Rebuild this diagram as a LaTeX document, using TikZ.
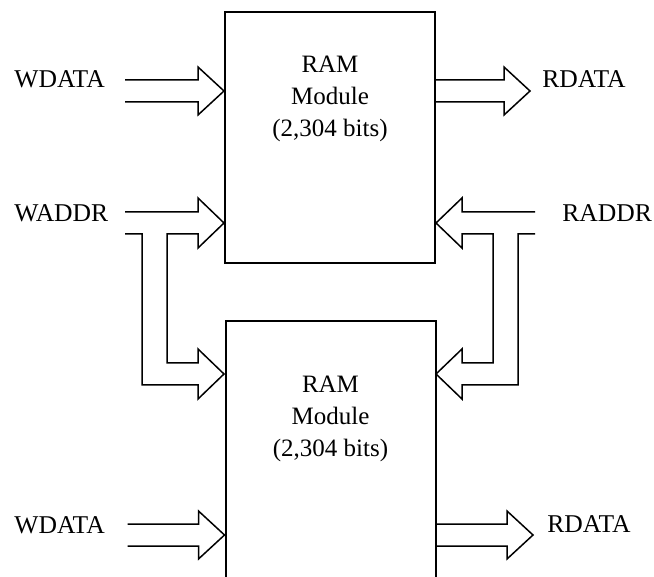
\documentclass[tikz,border=0pt]{standalone}
\usepackage{fontspec}
\setmainfont{Liberation Serif}
\usetikzlibrary{positioning}

\begin{document}
\begin{tikzpicture}[
  x=.5pt,y=-.5pt,
  ram/.style={
    rectangle,draw=black,line width=1pt,minimum width=105pt,
    inner sep=0pt
  },
  ramtext/.style={align=center,font=\fontsize{12.5}{16}\selectfont},
  signal/.style={font=\fontsize{12.8}{15}\selectfont,anchor=base west,inner sep=0pt},
  busline/.style={draw=black,line width=.75pt,line join=miter},
  % Argument: shaft length; the tip sits at the pic origin.
  pics/bus/.style={code={
    \draw[busline] (-#1,-11) -- (-26,-11) -- (-26,-24) -- (0,0)
      -- (-26,24) -- (-26,11) -- (-#1,11);
  }},
  % Address bus feeding both modules; the lower tip is 151 below.
  pics/splitbus/.style={code={
    \draw[busline] (-99,-11) -- (-26,-11) -- (-26,-25) -- (0,0)
      -- (-26,25) -- (-26,11) -- (-57,11) -- (-57,140) -- (-26,140)
      -- (-26,126) -- (0,151) -- (-26,176) -- (-26,162) -- (-82,162)
      -- (-82,11) -- (-99,11);
  }}
]
  \useasboundingbox (0,0) rectangle (654,577);
  \clip (0,0) rectangle (654,577);

  \node[ram,minimum height=125.5pt] (ramA) at (330,137.5) {};
  \node[ram,minimum height=150pt] (ramB) at (330.5,471) {};

  \node[ramtext] (ramAtext) at (ramA.center |- 0,99)
    {RAM\\Module\\(2,304 bits)};
  \node[ramtext] (ramBtext) at (ramB.center |- 0,419)
    {RAM\\Module\\(2,304 bits)};

  \node[signal] (wdataA) at (14,88) {WDATA};
  \node[signal] (rdataA) at (542,88) {RDATA};
  \node[signal] (waddr) at (14,222) {WADDR};
  \node[signal] (raddr) at (562,222) {RADDR};
  \node[signal] (wdataB) at (14,533) {WDATA};
  \node[signal] (rdataB) at (547,532) {RDATA};

  \coordinate (wdAtip) at (ramA.west |- 0,91);
  \coordinate (rdAtip) at (530,91);
  \coordinate (waAtip) at (ramA.west |- 0,223);
  \coordinate (raAtip) at (ramA.east |- 0,223);
  \coordinate (wdBtip) at (ramB.west |- 0,535);
  \coordinate (rdBtip) at (533,535);

  \pic at (wdAtip) {bus=99};
  \pic at (rdAtip) {bus=95};
  \pic at (waAtip) {splitbus};
  \pic[xscale=-1] at (raAtip) {splitbus};
  \pic at (wdBtip) {bus=97};
  \pic at (rdBtip) {bus=98};
\end{tikzpicture}
\end{document}
